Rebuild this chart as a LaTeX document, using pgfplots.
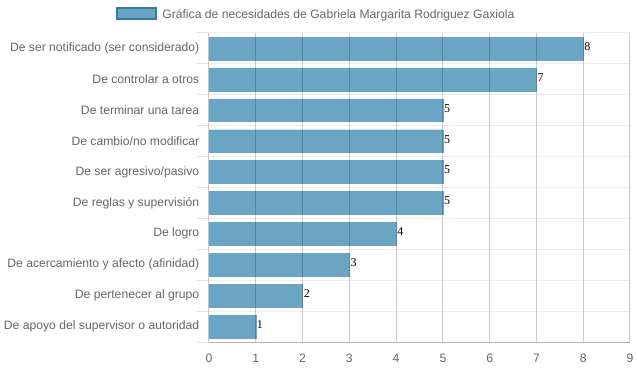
\documentclass[border=0pt]{standalone}
\usepackage{fontspec}
\setmainfont{Liberation Sans}
\newfontfamily\seriffont{Liberation Serif}
\usepackage{pgfplots}
\pgfplotsset{compat=1.18}
\definecolor{barfill}{RGB}{107,165,196}
\definecolor{barline}{RGB}{50,122,162}
\definecolor{txt}{RGB}{102,102,102}
\begin{document}
\begin{tikzpicture}
\path[use as bounding box] (-209bp,-29bp) rectangle (428bp,342bp);
\begin{axis}[
  at={(0,0)}, anchor=south west,
  scale only axis, width=421bp, height=309bp,
  xbar, bar width=0.74,
  xmin=0, xmax=9, ymin=-0.5, ymax=9.5, y dir=reverse,
  xtick={0,...,9},
  ytick={0,...,9},
  yticklabels={De ser notificado (ser considerado),De controlar a otros,De terminar una tarea,De cambio/no modificar,De ser agresivo/pasivo,De reglas y supervisión,De logro,De acercamiento y afecto (afinidad),De pertenecer al grupo,De apoyo del supervisor o autoridad},
  minor ytick={-0.5,0.5,...,9.5},
  /pgf/number format/assume math mode=true,
  axis x line*=bottom, axis y line*=left,
  x axis line style={-, draw=black, draw opacity=0.25},
  y axis line style={draw=none},
  tick align=outside,
  major tick style={draw=none},
  minor tick length=12bp,
  minor tick style={draw=black, draw opacity=0.1, line width=1bp},
  xmajorgrids, yminorgrids,
  major grid style={draw=black, draw opacity=0.2, line width=1bp},
  minor grid style={draw=black, draw opacity=0.07, line width=1bp},
  axis on top,
  yticklabel style={font=\fontsize{12.2}{14}\selectfont, text=txt, xshift=-2bp},
  xticklabel style={font=\fontsize{12.2}{14}\selectfont, text=txt, yshift=-4bp},
  nodes near coords,
  nodes near coords style={font=\seriffont\fontsize{12}{12}\selectfont, text=black, anchor=west, inner sep=1bp, yshift=2bp},
  legend style={at={(axis description cs:-0.221,1.060)}, anchor=west, draw=none, fill=none, inner sep=0pt, font=\fontsize{12.2}{14}\selectfont, text=txt},
  legend image code/.code={\draw[fill=barfill, draw=barline, line width=2bp] (0bp,-5bp) rectangle (39bp,6bp); \path (43bp,0bp);},
]
\addplot[fill=barfill, draw=barfill] coordinates {(8,0) (7,1) (5,2) (5,3) (5,4) (5,5) (4,6) (3,7) (2,8) (1,9)};
\addlegendentry{Gráfica de necesidades de Gabriela Margarita Rodriguez Gaxiola}
\end{axis}
\end{tikzpicture}
\end{document}
